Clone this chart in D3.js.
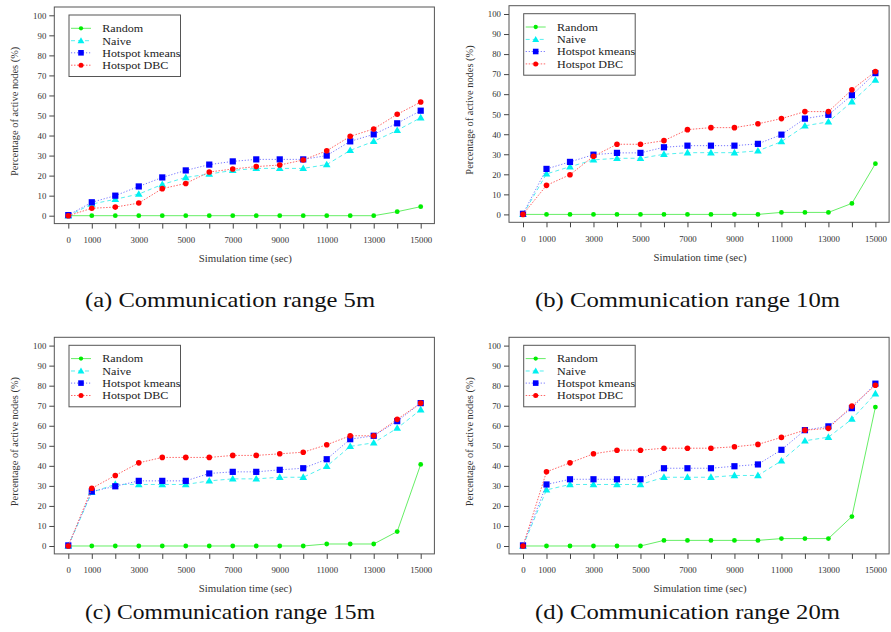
<!DOCTYPE html>
<html>
<head>
<meta charset="utf-8">
<script src="https://cdn.jsdelivr.net/npm/d3@7"></script>
<style>
  html, body { margin: 0; padding: 0; background: #fff; }
  svg { display: block; }
</style>
</head>
<body>
<div id="chart"></div>
<script>
// ---------------- DATA ----------------
const times = [0,1000,2000,3000,4000,5000,6000,7000,8000,9000,10000,11000,12000,13000,14000,15000];
const xTickLabels = [0,1000,3000,5000,7000,9000,11000,13000,15000];
const yTicks = [0,10,20,30,40,50,60,70,80,90,100];
const seriesNames = ["Random", "Naive", "Hotspot kmeans", "Hotspot DBC"];
const panelTitles = ["(a) Communication range 5m", "(b) Communication range 10m",
                     "(c) Communication range 15m", "(d) Communication range 20m"];
const xTitle = "Simulation time (sec)";
const yTitle = "Percentage of active nodes (%)";

// panel (a) 5m
const randomA = [0,0,0,0,0,0,0,0,0,0,0,0,0,0,2.0,4.5];
const naiveA  = [0,5.8,8.2,10.8,15.6,19.1,20.8,22.6,23.6,23.6,23.6,25.5,32.6,37.1,42.6,48.9];
const kmeansA = [0.3,6.7,10.0,14.6,19.1,22.6,25.5,27.1,28.1,28.1,28.1,30.0,37.1,40.6,46.1,52.4];
const dbcA    = [0,3.7,4.3,6.3,13.5,16.1,21.8,23.3,24.5,25.3,27.8,32.4,39.6,43.3,50.6,56.7];
// panel (b) 10m
const randomB = [0,0,0,0,0,0,0,0,0,0,0,1.0,1.0,1.0,5.5,25.3];
const naiveB  = [0,20.2,23.8,27.2,28.0,28.0,30.0,30.8,30.8,30.8,31.7,36.3,44.2,46.2,56.2,67.0];
const kmeansB = [0.3,22.7,26.2,29.8,30.7,30.7,33.5,34.3,34.3,34.3,35.2,39.8,47.8,49.7,59.5,70.5];
const dbcB    = [0,14.5,19.8,29.0,35.0,35.0,36.8,42.3,43.3,43.3,45.2,47.8,51.3,51.3,62.2,71.3];
// panel (c) 15m
const randomC = [0,0,0,0,0,0,0,0,0,0,0,1.0,1.0,1.0,7.2,40.7];
const naiveC  = [0,26.8,30.8,30.7,30.7,30.7,32.5,33.5,33.5,34.3,34.3,39.8,49.7,51.5,58.8,68.0];
const kmeansC = [0.3,27.2,29.8,32.5,32.5,32.5,36.2,37.0,37.0,38.0,38.8,43.3,53.3,55.0,62.3,71.3];
const dbcC    = [0,28.8,35.2,41.5,44.2,44.2,44.2,45.2,45.2,46.0,46.8,50.5,55.0,55.0,63.2,71.3];
// panel (d) 20m
const randomD = [0,0,0,0,0,0,2.8,2.8,2.8,2.8,2.8,3.7,3.7,3.7,14.7,69.3];
const naiveD  = [0,28.0,30.7,30.7,30.7,30.7,34.3,34.3,34.3,35.2,35.2,42.5,52.5,54.3,63.3,76.0];
const kmeansD = [0.3,30.7,33.3,33.3,33.3,33.3,38.8,38.8,38.8,39.8,40.7,48.0,57.8,59.7,68.8,81.0];
const dbcD    = [0,37.0,41.5,46.0,47.8,47.8,48.8,48.8,48.8,49.5,50.7,54.2,57.8,58.7,69.8,80.2];

const panelData = [
  [randomA, naiveA, kmeansA, dbcA],
  [randomB, naiveB, kmeansB, dbcB],
  [randomC, naiveC, kmeansC, dbcC],
  [randomD, naiveD, kmeansD, dbcD]
];

// ---------------- LAYOUT / STYLE ----------------
const W = 891, H = 632;
const FONT = "'Liberation Serif', 'Times New Roman', serif";
const panelOrigins = [[0,0],[454.7,-1.3],[0,330.3],[454.7,330.3]];
const captionPos = [[230,307],[687.5,307],[230,619],[687.5,619]];
const captionWidth = [290, 305, 290, 305];
const box = {left:54.3, top:7, right:434.4, bottom:223.6};
const xRange = [68.3, 420.7];
const yRange = [215.7, 15.3];

const styles = [
  {color:"#00ee00", line:"#66ee66", dash:null,      marker:"circle",   size:2.4},
  {color:"#00f0f0", line:"#55f0f0", dash:"4,3",     marker:"triangle", size:2.9},
  {color:"#0000ff", line:"#7777ff", dash:"1.2,1.8", marker:"square",   size:3.1},
  {color:"#ff0000", line:"#ff6666", dash:"1.5,1.5", marker:"circle",   size:2.8}
];

const svg = d3.select("#chart").append("svg")
  .attr("width", W).attr("height", H)
  .attr("viewBox", `0 0 ${W} ${H}`);

function drawMarker(g, type, cx, cy, s, color) {
  if (type === "circle") {
    g.append("circle").attr("cx", cx).attr("cy", cy).attr("r", s).attr("fill", color);
  } else if (type === "square") {
    g.append("rect").attr("x", cx - s).attr("y", cy - s).attr("width", 2*s).attr("height", 2*s).attr("fill", color);
  } else {
    const sym = d3.symbol().type(d3.symbolTriangle).size(s*s*3.0);
    g.append("path").attr("d", sym()).attr("transform", `translate(${cx},${cy+0.5})`).attr("fill", color);
  }
}

panelData.forEach((series, pi) => {
  const [ox, oy] = panelOrigins[pi];
  const g = svg.append("g").attr("transform", `translate(${ox},${oy})`);

  const x = d3.scaleLinear().domain([0, 15000]).range(xRange);
  const y = d3.scaleLinear().domain([0, 100]).range(yRange);

  // frame
  g.append("rect")
    .attr("x", box.left).attr("y", box.top)
    .attr("width", box.right - box.left).attr("height", box.bottom - box.top)
    .attr("fill", "none").attr("stroke", "#555").attr("stroke-width", 1);

  // y axis
  const yAxis = d3.axisLeft(y).tickValues(yTicks).tickSize(5).tickPadding(3);
  const ya = g.append("g").attr("transform", `translate(${box.left},0)`).call(yAxis);
  ya.select(".domain").remove();
  ya.selectAll("line").attr("stroke", "#444");
  ya.selectAll("text").attr("font-family", FONT).attr("font-size", 8.8).attr("fill", "#333");

  // x axis
  const xAxis = d3.axisBottom(x).tickValues(times).tickSize(5).tickPadding(8)
    .tickFormat(d => xTickLabels.includes(d) ? String(d) : "");
  const xa = g.append("g").attr("transform", `translate(0,${box.bottom})`).call(xAxis);
  xa.select(".domain").remove();
  xa.selectAll("line").attr("stroke", "#444");
  xa.selectAll("text").attr("font-family", FONT).attr("font-size", 8.8).attr("fill", "#333");

  // axis titles
  g.append("text")
    .attr("x", (box.left + box.right) / 2 + 1).attr("y", 262)
    .attr("text-anchor", "middle").attr("font-family", FONT).attr("font-size", 10.8)
    .attr("fill", "#333").text(xTitle);
  g.append("text")
    .attr("transform", `translate(18,${(box.top + box.bottom) / 2 - 4}) rotate(-90)`)
    .attr("text-anchor", "middle").attr("font-family", FONT).attr("font-size", 10.4)
    .attr("fill", "#333").text(yTitle);

  // series
  series.forEach((vals, si) => {
    const st = styles[si];
    const pts = times.map((t, i) => [x(t), y(vals[i])]);
    const path = g.append("path")
      .attr("d", d3.line()(pts))
      .attr("fill", "none").attr("stroke", st.line).attr("stroke-width", 1);
    if (st.dash) path.attr("stroke-dasharray", st.dash);
    const mg = g.append("g");
    pts.forEach(p => drawMarker(mg, st.marker, p[0], p[1], st.size, st.color));
  });

  // legend
  const lg = g.append("g");
  lg.append("rect").attr("x", 69).attr("y", 15).attr("width", 111.5).attr("height", 61.5)
    .attr("fill", "#fff").attr("stroke", "#555").attr("stroke-width", 1);
  const rowY = [28.3, 40.7, 52.8, 65.2];
  seriesNames.forEach((name, si) => {
    const st = styles[si];
    const ly = rowY[si];
    const ln = lg.append("line").attr("x1", 71).attr("x2", 91).attr("y1", ly).attr("y2", ly)
      .attr("stroke", st.line).attr("stroke-width", 1);
    if (st.dash) ln.attr("stroke-dasharray", st.dash);
    drawMarker(lg, st.marker, 81, ly, st.size * 0.9, st.color);
    lg.append("text")
      .attr("transform", `translate(102.3,${ly + 3.8}) scale(1.12,1)`)
      .attr("font-family", FONT).attr("font-size", 10.8).attr("fill", "#222").text(name);
  });
});

// captions
panelTitles.forEach((t, i) => {
  svg.append("text")
    .attr("x", captionPos[i][0] - captionWidth[i] / 2).attr("y", captionPos[i][1])
    .attr("font-family", FONT).attr("font-size", 22)
    .attr("textLength", captionWidth[i]).attr("lengthAdjust", "spacingAndGlyphs")
    .attr("fill", "#111").text(t);
});
</script>
</body>
</html>
